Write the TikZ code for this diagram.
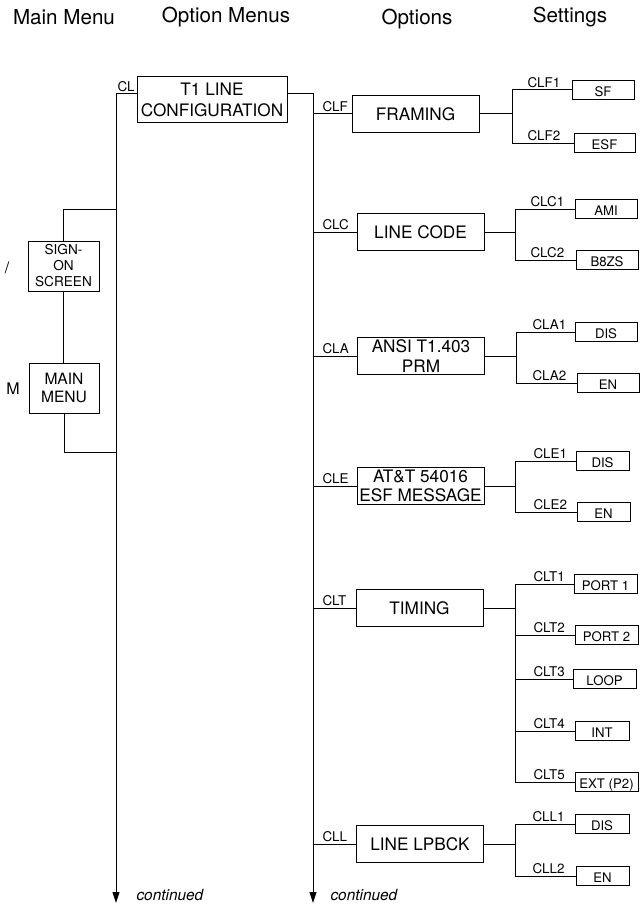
\documentclass[tikz,border=0pt]{standalone}
\usepackage{fontspec}
\setmainfont{TeX Gyre Heros}
\usetikzlibrary{arrows.meta}

\begin{document}
\begin{tikzpicture}[x=0.5pt,y=-0.5pt,line width=0.5pt,
    head/.style={font=\fontsize{10.3}{12}\selectfont},
    menubox/.style={draw, align=center, inner sep=0pt, minimum width=35.5pt, minimum height=25pt},
    optbox/.style={draw, align=center, inner sep=0pt, minimum width=63.5pt, minimum height=18.5pt, font=\fontsize{8.6}{9.6}\selectfont},
    setbox/.style={draw, inner sep=0pt, minimum width=31pt, minimum height=9.25pt, text height=6.5pt, text depth=0pt, font=\fontsize{6.6}{8}\selectfont},
    keylbl/.style={anchor=south west, inner sep=1pt, font=\fontsize{6.7}{8}\selectfont},
    flow/.style={-{Triangle[length=5.5pt,width=3.5pt]}}]
    \useasboundingbox (0,0) rectangle (642,904);

    % column heads
    \node[head] (hmain) at (64,17) {Main Menu};
    \node[head] (hoptmenu) at (226,17) {Option Menus};
    \node[head] (hoptions) at (417,19) {Options};
    \node[head] (hsettings) at (570,17) {Settings};

    % main menu side
    \node[menubox, font=\fontsize{6.8}{8}\selectfont] (signon) at (63.5,266) {SIGN-\\ON\\SCREEN};
    \node[menubox, minimum width=35pt, font=\fontsize{7.8}{9}\selectfont] (mainmenu) at (64,388) {MAIN\\MENU};
    \node[font=\fontsize{8}{9}\selectfont] (kslash) at (7,268) {/};
    \node[font=\fontsize{8}{9}\selectfont] (km) at (13,389) {M};

    \coordinate (cl) at (116,94);
    \coordinate (sojoin) at (116,209);
    \coordinate (mmjoin) at (116,452);
    \coordinate (mmend) at (116,903);
    \coordinate (omend) at (313,903);

    \node[optbox, minimum width=75pt, minimum height=23pt, font=\fontsize{8.6}{10.5}\selectfont] (t1) at (212,100) {T1 LINE\\CONFIGURATION};
    \node[keylbl] (lcl) at (115,94) {CL};

    \draw[flow] (t1.west |- cl) -- (cl) -- (mmend);
    \draw[flow] (t1.east |- cl) -- (cl -| omend) -- (omend);
    \draw (signon.north) |- (sojoin);
    \draw (signon.south) -- (signon.south |- mainmenu.north);
    \draw (mainmenu.south) |- (mmjoin);

    % options
    \node[optbox] (framing) at (415.5,114) {FRAMING};
    \node[optbox] (linecode) at (420.5,232) {LINE CODE};
    \node[optbox] (ansi) at (421,356) {ANSI T1.403\\PRM};
    \node[optbox] (att) at (420.5,486) {AT\&T 54016\\ESF MESSAGE};
    \node[optbox] (timing) at (419.5,608) {TIMING};
    \node[optbox] (lpbck) at (420,844) {LINE LPBCK};

    \foreach \o/\y/\t in {framing/114/CLF, linecode/232/CLC, ansi/356/CLA, att/486/CLE, timing/608/CLT, lpbck/844/CLL}{
        \draw (\o.west -| omend) -- (\o.west);
        \node[keylbl] (l\t) at (320,\y) {\t};
    }

    \coordinate (brframing) at (512,114);
    \coordinate (brlinecode) at (515,232);
    \coordinate (bransi) at (516,356);
    \coordinate (bratt) at (515,486);
    \coordinate (brtiming) at (515,608);
    \coordinate (brlpbck) at (515,844);

    % settings
    \node[setbox] (sf) at (603,90) {SF};
    \node[setbox, minimum width=30.5pt] (esf) at (604.5,143) {ESF};
    \node[setbox] (ami) at (606,209) {AMI};
    \node[setbox] (b8zs) at (607,260) {B8ZS};
    \node[setbox] (adis) at (606,332) {DIS};
    \node[setbox] (aen) at (608,383) {EN};
    \node[setbox, minimum width=26.5pt] (edis) at (602.5,461) {DIS};
    \node[setbox, minimum width=26.5pt] (een) at (603.5,512) {EN};
    \node[setbox, minimum width=31.5pt] (port1) at (605.5,584) {PORT 1};
    \node[setbox, minimum width=31.5pt] (port2) at (606.5,635) {PORT 2};
    \node[setbox, minimum width=31.5pt] (loop) at (604.5,679) {LOOP};
    \node[setbox, minimum width=27pt] (int) at (602,731) {INT};
    \node[setbox, minimum width=31.5pt] (ext) at (606.5,782) {EXT (P2)};
    \node[setbox, minimum width=27pt] (ldis) at (602,824) {DIS};
    \node[setbox, minimum width=26.5pt] (len) at (602.5,876) {EN};

    \foreach \o/\s in {framing/sf, framing/esf, linecode/ami, linecode/b8zs, ansi/adis, ansi/aen,
                       att/edis, att/een, timing/port1, timing/port2, timing/loop, timing/int, timing/ext,
                       lpbck/ldis, lpbck/len}
        \draw (\o.east) -- (br\o) |- (\s.west);

    \foreach \x/\y/\t in {525/90/CLF1, 525/143/CLF2, 528/209/CLC1, 528/260/CLC2, 530/332/CLA1, 530/383/CLA2,
                          531/461/CLE1, 531/512/CLE2, 531/584/CLT1, 531/635/CLT2, 531/679/CLT3, 531/731/CLT4,
                          531/782/CLT5, 530/824/CLL1, 530/876/CLL2}
        \node[keylbl] (l\t) at (\x,\y) {\t};

    \node[anchor=west, inner sep=0pt, font=\itshape\fontsize{7.7}{9}\selectfont] (contmain) at (136,895) {continued};
    \node[anchor=west, inner sep=0pt, font=\itshape\fontsize{7.7}{9}\selectfont] (contopt) at (330,895) {continued};
\end{tikzpicture}
\end{document}
